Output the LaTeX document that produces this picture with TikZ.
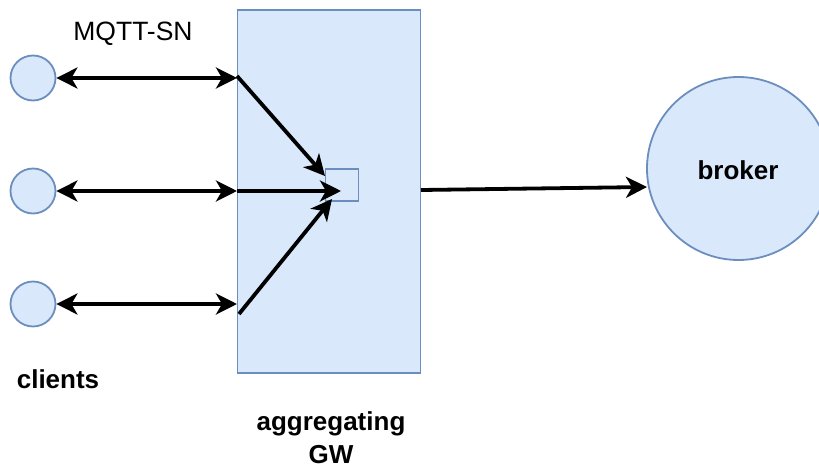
\documentclass[tikz,border=0pt]{standalone}
\usepackage{fontspec}
\setmainfont{Liberation Sans}
\usetikzlibrary{arrows.meta}
\definecolor{bfill}{HTML}{DAE8FC}
\definecolor{bline}{HTML}{6C8EBF}
\begin{document}
\begin{tikzpicture}[x=1pt,y=-1pt,
  client/.style={circle,draw=bline,fill=bfill,line width=1.8pt,minimum size=45pt,inner sep=0pt},
  boxs/.style={draw=bline,fill=bfill,line width=1.8pt,inner sep=0pt},
  conn/.style={line width=3.8pt,-{Stealth[length=21pt,width=21pt,inset=6pt]}},
  dconn/.style={line width=3.8pt,{Stealth[length=21pt,width=21pt,inset=6pt]}-{Stealth[length=21pt,width=21pt,inset=6pt]}},
  lbl/.style={font=\fontsize{26}{30}\selectfont\bfseries,inner sep=0pt}]
\useasboundingbox (0,0) rectangle (819,468);
\begin{scope}
\clip (0,0) rectangle (819,468);
\node[circle,draw=bline,fill=bfill,line width=1.8pt,minimum size=183pt,inner sep=0pt] (broker) at (738.5,168.5) {};
\end{scope}
\node[boxs,minimum width=183pt,minimum height=363pt] (gw) at (329,191.5) {};
\node[boxs,minimum width=33pt,minimum height=32pt] (sq) at (342,185) {};
\node[client] (c1) at (33,78) {};
\node[client] (c2) at (33,191) {};
\node[client] (c3) at (33,304) {};
\node[lbl] (bl) at (738,170) {broker};
\node[font=\fontsize{26.5}{30}\selectfont,inner sep=0pt] (mq) at (133,34) {MQTT-SN};
\node[lbl] (cl) at (58,379) {clients};
\node[lbl] (ag1) at (331,424) {aggregating};
\node[lbl] (ag2) at (331,455) {GW};
\coordinate (g1) at (237,78);
\coordinate (g2) at (237,191);
\coordinate (g3) at (237,304);
\coordinate (d1) at (237,76);
\coordinate (t1) at (325,176);
\coordinate (t2) at (341,191);
\coordinate (d3) at (239,314);
\coordinate (t3) at (332,199);
\coordinate (b0) at (421,190);
\coordinate (b1) at (647,187);
\draw[dconn] (c1) -- (g1);
\draw[dconn] (c2) -- (g2);
\draw[dconn] (c3) -- (g3);
\draw[conn] (d1) -- (t1);
\draw[conn] (g2) -- (t2);
\draw[conn] (d3) -- (t3);
\draw[conn] (b0) -- (b1);
\end{tikzpicture}
\end{document}
